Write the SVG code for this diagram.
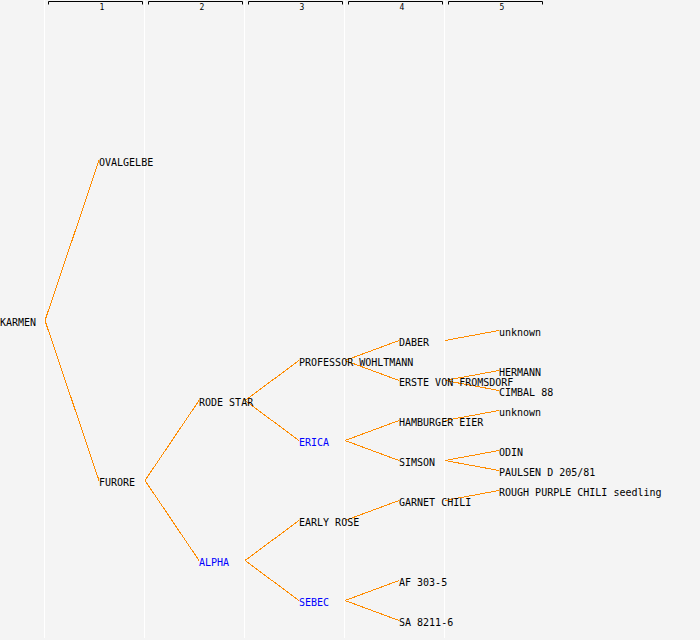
<svg xmlns="http://www.w3.org/2000/svg" width="700" height="640" viewBox="0 0 700 640">
<style>
  .bg{fill:#f4f4f4}
  .sep{stroke:#ffffff;stroke-width:1}
  .hdr{fill:none;stroke:#000;stroke-width:1}
  .hl{font-family:"DejaVu Sans Mono","Liberation Mono",monospace;font-size:8px;fill:#000;text-anchor:middle}
  text.n{font-family:"DejaVu Sans Mono","Liberation Mono",monospace;font-size:10px;fill:#000}
  text.b{fill:#0000ff}
  #connectors line{stroke:#ff8c00;stroke-width:1;shape-rendering:crispEdges}
</style>
<rect class="bg" x="0" y="0" width="700" height="640"/>
<g id="columns">
  <line class="sep" x1="44.5" y1="0" x2="44.5" y2="638"/>
  <line class="sep" x1="144.5" y1="0" x2="144.5" y2="638"/>
  <line class="sep" x1="244.5" y1="0" x2="244.5" y2="638"/>
  <line class="sep" x1="344.5" y1="0" x2="344.5" y2="638"/>
  <line class="sep" x1="444.5" y1="0" x2="444.5" y2="638"/>
  <path class="hdr" d="M48.5,4.5V1.5H142.5V4.5"/>
  <path class="hdr" d="M148.5,4.5V1.5H242.5V4.5"/>
  <path class="hdr" d="M248.5,4.5V1.5H342.5V4.5"/>
  <path class="hdr" d="M348.5,4.5V1.5H442.5V4.5"/>
  <path class="hdr" d="M448.5,4.5V1.5H542.5V4.5"/>
  <text class="hl" x="102" y="10">1</text>
  <text class="hl" x="202" y="10">2</text>
  <text class="hl" x="302" y="10">3</text>
  <text class="hl" x="402" y="10">4</text>
  <text class="hl" x="502" y="10">5</text>
</g>
<g id="connectors">
  <line x1="45" y1="320.5" x2="99" y2="160.5"/>
  <line x1="45" y1="320.5" x2="99" y2="480.5"/>
  <line x1="145" y1="480.5" x2="199" y2="400.5"/>
  <line x1="145" y1="480.5" x2="199" y2="560.5"/>
  <line x1="245" y1="400.5" x2="299" y2="360.5"/>
  <line x1="245" y1="400.5" x2="299" y2="440.5"/>
  <line x1="245" y1="560.5" x2="299" y2="520.5"/>
  <line x1="245" y1="560.5" x2="299" y2="600.5"/>
  <line x1="345" y1="360.5" x2="399" y2="340.5"/>
  <line x1="345" y1="360.5" x2="399" y2="380.5"/>
  <line x1="345" y1="440.5" x2="399" y2="420.5"/>
  <line x1="345" y1="440.5" x2="399" y2="460.5"/>
  <line x1="345" y1="520.5" x2="399" y2="500.5"/>
  <line x1="345" y1="600.5" x2="399" y2="580.5"/>
  <line x1="345" y1="600.5" x2="399" y2="620.5"/>
  <line x1="445" y1="340.5" x2="499" y2="330.5"/>
  <line x1="445" y1="380.5" x2="499" y2="370.5"/>
  <line x1="445" y1="380.5" x2="499" y2="390.5"/>
  <line x1="445" y1="420.5" x2="499" y2="410.5"/>
  <line x1="445" y1="460.5" x2="499" y2="450.5"/>
  <line x1="445" y1="460.5" x2="499" y2="470.5"/>
  <line x1="445" y1="500.5" x2="499" y2="490.5"/>
</g>
<g id="karmen"><text class="n" x="0" y="326">KARMEN</text></g>
<g id="ovalgelbe"><text class="n" x="99" y="166">OVALGELBE</text></g>
<g id="furore"><text class="n" x="99" y="486">FURORE</text></g>
<g id="rode-star"><text class="n" x="199" y="406">RODE STAR</text></g>
<g id="alpha"><text class="n b" x="199" y="566">ALPHA</text></g>
<g id="professor-wohltmann"><text class="n" x="299" y="366">PROFESSOR WOHLTMANN</text></g>
<g id="erica"><text class="n b" x="299" y="446">ERICA</text></g>
<g id="early-rose"><text class="n" x="299" y="526">EARLY ROSE</text></g>
<g id="sebec"><text class="n b" x="299" y="606">SEBEC</text></g>
<g id="daber"><text class="n" x="399" y="346">DABER</text></g>
<g id="erste-von-fromsdorf"><text class="n" x="399" y="386">ERSTE VON FROMSDORF</text></g>
<g id="hamburger-eier"><text class="n" x="399" y="426">HAMBURGER EIER</text></g>
<g id="simson"><text class="n" x="399" y="466">SIMSON</text></g>
<g id="garnet-chili"><text class="n" x="399" y="506">GARNET CHILI</text></g>
<g id="af-303-5"><text class="n" x="399" y="586">AF 303-5</text></g>
<g id="sa-8211-6"><text class="n" x="399" y="626">SA 8211-6</text></g>
<g id="unknown-1"><text class="n" x="499" y="336">unknown</text></g>
<g id="hermann"><text class="n" x="499" y="376">HERMANN</text></g>
<g id="cimbal-88"><text class="n" x="499" y="396">CIMBAL 88</text></g>
<g id="unknown-2"><text class="n" x="499" y="416">unknown</text></g>
<g id="odin"><text class="n" x="499" y="456">ODIN</text></g>
<g id="paulsen"><text class="n" x="499" y="476">PAULSEN D 205/81</text></g>
<g id="rough-purple"><text class="n" x="499" y="496">ROUGH PURPLE CHILI seedling</text></g>
</svg>
